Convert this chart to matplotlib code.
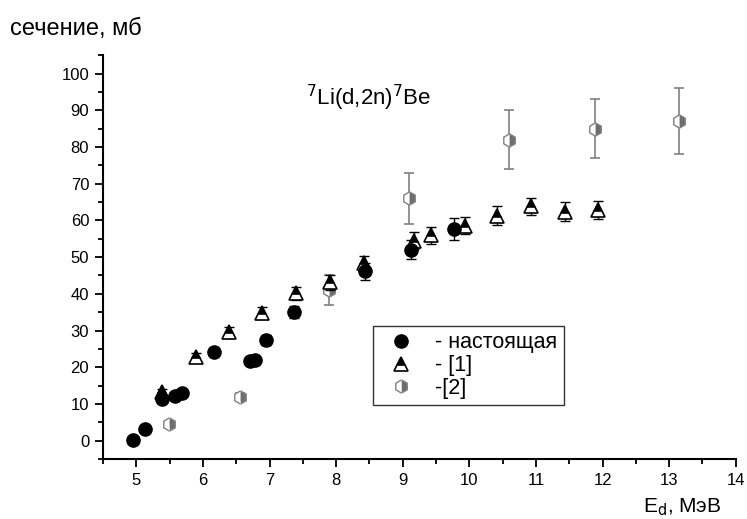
import matplotlib
matplotlib.use("Agg")
import matplotlib.pyplot as plt
from matplotlib.ticker import MultipleLocator

plt.rcParams['font.family'] = ['Liberation Sans', 'DejaVu Sans']

# настоящая работа (чёрные кружки)
x_now = [4.95, 5.13, 5.39, 5.58, 5.69, 6.16, 6.70, 6.78, 6.94, 7.36, 8.44, 9.12, 9.77]
y_now = [0.2, 3.2, 11.4, 12.1, 13.0, 24.2, 21.8, 22.1, 27.4, 35.0, 46.1, 52.0, 57.6]
e_now = [0.3, 0.5, 0.8, 0.8, 0.8, 1.0, 0.8, 0.8, 1.4, 1.7, 2.2, 2.6, 3.0]

# [1] (треугольники)
x_1 = [5.38, 5.89, 6.39, 6.89, 7.40, 7.90, 8.42, 9.17, 9.43, 9.93, 10.42, 10.93, 11.43, 11.93]
y_1 = [13.2, 22.7, 29.5, 34.8, 40.1, 43.1, 48.3, 54.5, 55.9, 58.6, 61.3, 63.8, 62.4, 62.8]
e_1 = [0.8, 1.2, 1.4, 1.7, 1.8, 2.0, 2.1, 2.3, 2.4, 2.4, 2.5, 2.4, 2.5, 2.5]

# [2] (серые шестиугольники)
x_2 = [5.49, 6.55, 7.89, 9.10, 10.59, 11.89, 13.14]
y_2 = [4.5, 12.0, 41.0, 66.0, 82.0, 85.0, 87.0]
e_2 = [0.5, 1.0, 4.0, 7.0, 8.0, 8.0, 9.0]

labels = ['- настоящая', '- [1]', '-[2]']

fig = plt.figure(figsize=(7.47, 5.19), dpi=100)
ax = fig.add_axes([0.138, 0.1156, 0.847, 0.778])

gray = '#808080'
ax.errorbar(x_2, y_2, yerr=e_2, fmt='none', ecolor=gray, elinewidth=1.2, capsize=3.5, capthick=1.2, zorder=2)
h2, = ax.plot(x_2, y_2, linestyle='none', marker='h', markersize=9.5, fillstyle='right',
              markerfacecolor='#6e6e6e', markerfacecoloralt='white', markeredgecolor=gray,
              markeredgewidth=1.0, zorder=3, label=labels[2])

ax.errorbar(x_1, y_1, yerr=e_1, fmt='none', ecolor='black', elinewidth=1.0, capsize=3.5, capthick=1.0, zorder=4)
h1, = ax.plot(x_1, y_1, linestyle='none', marker='^', markersize=9.5, fillstyle='top',
              markerfacecolor='black', markerfacecoloralt='white', markeredgecolor='black',
              markeredgewidth=1.2, zorder=5, label=labels[1])

ax.errorbar(x_now, y_now, yerr=e_now, fmt='none', ecolor='black', elinewidth=1.0, capsize=3.5, capthick=1.0, zorder=6)
h0, = ax.plot(x_now, y_now, linestyle='none', marker='o', markersize=9.5, color='black', zorder=7, label=labels[0])

ax.set_xlim(4.5, 14)
ax.set_ylim(-5, 105)
ax.xaxis.set_major_locator(MultipleLocator(1))
ax.xaxis.set_minor_locator(MultipleLocator(0.5))
ax.yaxis.set_minor_locator(MultipleLocator(5))
ax.set_yticks(range(0, 101, 10))

for s in ['top', 'right']:
    ax.spines[s].set_visible(False)
for s in ['left', 'bottom']:
    ax.spines[s].set_linewidth(1.5)
ax.tick_params(which='major', direction='out', length=6, width=1.3, labelsize=12, pad=4)
ax.tick_params(which='minor', direction='out', length=3.5, width=1.3)

ax.text(7.55, 91.3, r'$^{7}$Li(d,2n)$^{7}$Be', fontsize=16, ha='left', va='baseline')

fig.text(0.013, 0.945, 'сечение, мб', fontsize=17, ha='left', va='center')
fig.text(0.861, 0.022, r'E$_{\rm d}$, МэВ', fontsize=15, ha='left', va='center')

leg = ax.legend(handles=[h0, h1, h2], loc='upper left', bbox_to_anchor=(0.499, 0.372),
                bbox_transform=fig.transFigure, borderaxespad=0, fontsize=15.5, frameon=True,
                fancybox=False, edgecolor='black', handlelength=2.0, handletextpad=0.6,
                borderpad=0.3, labelspacing=0.08)
leg.get_frame().set_linewidth(1.0)

fig.savefig('out.png', dpi=100)
